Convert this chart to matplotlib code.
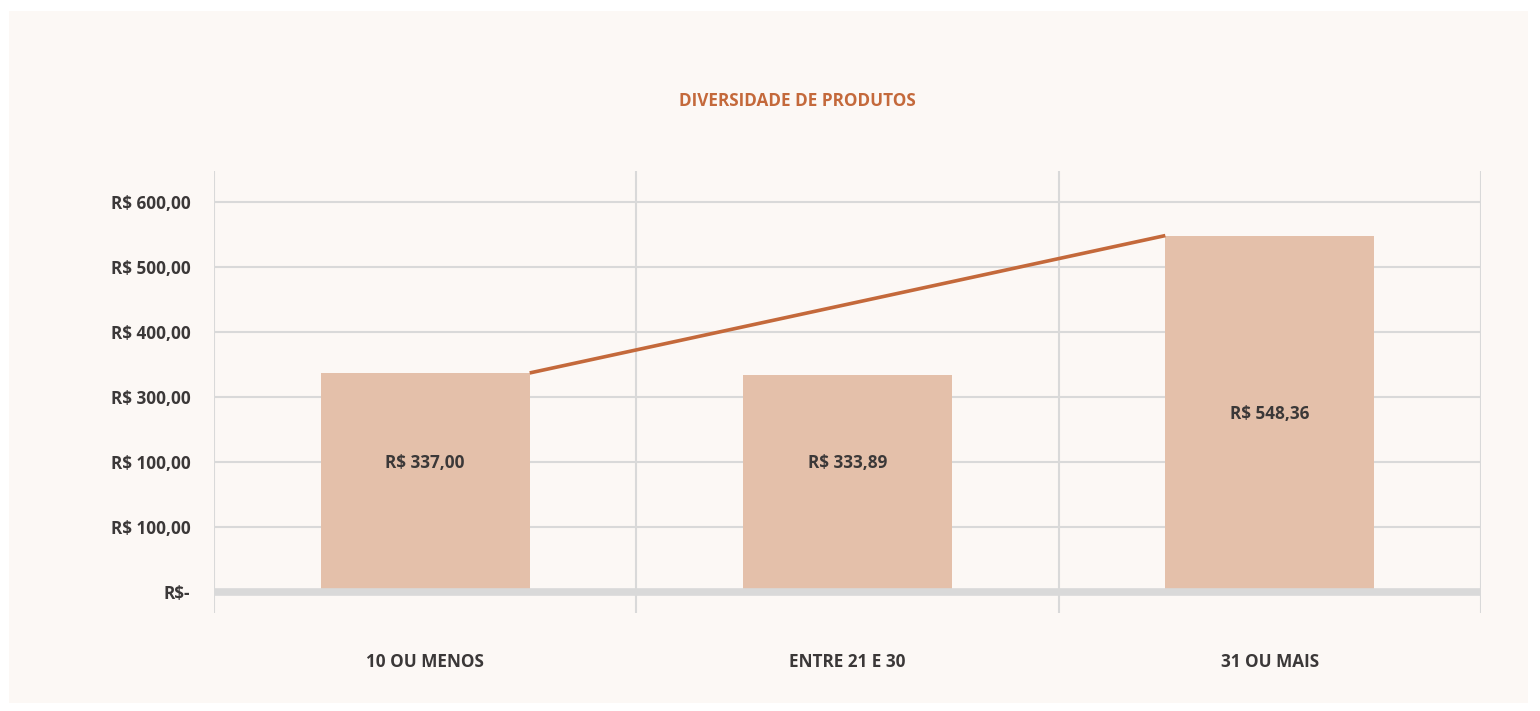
import matplotlib.pyplot as plt
from matplotlib.patches import Rectangle

categories = ['10 OU MENOS', 'ENTRE 21 E 30', '31 OU MAIS']
values = [337.00, 333.89, 548.36]
value_labels = ['R$ 337,00', 'R$ 333,89', 'R$ 548,36']
ytick_vals = [0, 100, 200, 300, 400, 500, 600]
ytick_labels = ['R$-', 'R$ 100,00', 'R$ 100,00', 'R$ 300,00', 'R$ 400,00', 'R$ 500,00', 'R$ 600,00']
title = 'DIVERSIDADE DE PRODUTOS'

bar_color = '#e4c0aa'
line_color = '#c4693b'
text_color = '#3b3838'
grid_color = '#d9d9d9'
panel_color = '#fcf8f5'

plt.rcParams['font.family'] = ['Open Sans', 'DejaVu Sans']
fs = 12.3

W, H = 1540, 711
fig = plt.figure(figsize=(W / 100, H / 100), dpi=100)
fig.patch.set_facecolor('white')
# light panel behind the chart
fig.patches.append(Rectangle((9 / W, 1 - 703 / H), (1528 - 9) / W, (703 - 11) / H,
                             transform=fig.transFigure, facecolor=panel_color,
                             edgecolor='none', zorder=-1))

ax = fig.add_axes([214 / W, 1 - 613 / H, (1481 - 214) / W, (613 - 171) / H])
ax.set_zorder(2)
ax.set_facecolor('none')
ax.set_xlim(-0.5, 2.5)
ax.set_ylim(-32.3, 647.7)

x = range(len(categories))
w = 0.495
ax.bar(x, values, width=w, color=bar_color, zorder=2)

# line from the first bar to the last bar
ax.plot([0 + w / 2, 2 - w / 2], [values[0], values[2]], color=line_color, lw=2.6,
        solid_capstyle='butt', zorder=4)

# value labels inside the bars
label_y = [198, 198, 274]
for i, (lab, ly) in enumerate(zip(value_labels, label_y)):
    ax.text(i, ly, lab, ha='center', va='center', fontsize=fs,
            fontweight='bold', color=text_color, zorder=5)

# grid
for yv in ytick_vals[1:]:
    ax.axhline(yv, color=grid_color, lw=1.5, zorder=1)
for xv in [-0.5, 0.5, 1.5, 2.5]:
    ax.axvline(xv, color=grid_color, lw=1.5, zorder=1)
ax.axhline(0, color=grid_color, lw=5.5, zorder=3)

for s in ax.spines.values():
    s.set_visible(False)
ax.set_yticks(ytick_vals)
ax.set_yticklabels(ytick_labels, fontsize=fs, fontweight='bold', color=text_color)
ax.set_xticks(list(x))
ax.set_xticklabels(categories, fontsize=fs, fontweight='bold', color=text_color)
ax.tick_params(axis='y', length=0, pad=17)
ax.tick_params(axis='x', length=0, pad=29)

fig.text(797 / W, 1 - 101 / H, title, ha='center', va='center', fontsize=fs,
         fontweight='bold', color=line_color)

fig.savefig('out.png', dpi=100, facecolor='white')
